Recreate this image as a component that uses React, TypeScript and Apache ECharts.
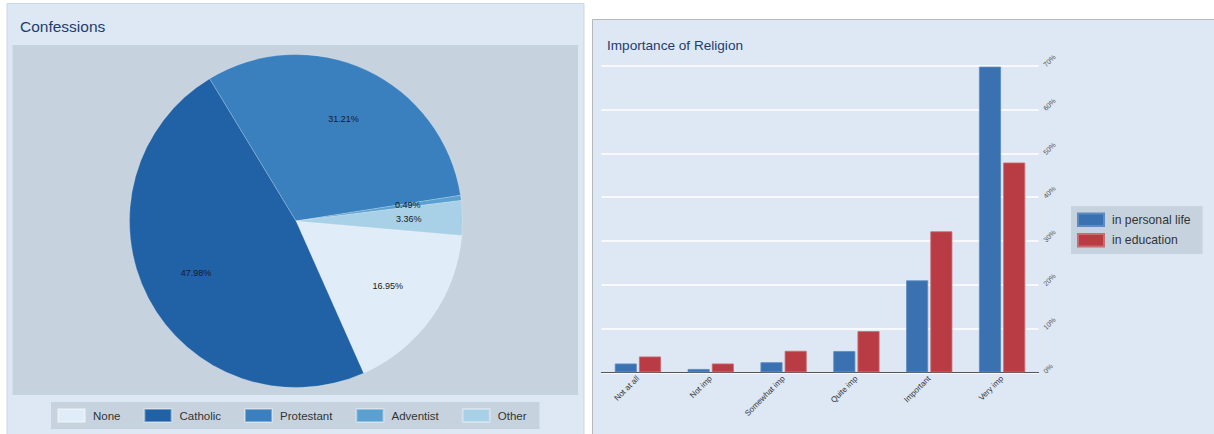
import React, { useEffect, useRef } from "react";
import * as echarts from "echarts";

// ---- Data ----
const confessionNames = ["None", "Catholic", "Protestant", "Adventist", "Other"];
const confessionShares = [16.95, 47.98, 31.21, 0.49, 3.36];
const confessionColors = ["#e0ecf8", "#2161a5", "#3a80bf", "#5aa0d0", "#a8d0e6"];

const importanceCategories = ["Not at all", "Not imp", "Somewhat imp", "Quite imp", "Important", "Very imp"];
const personalLife = [2.0, 0.75, 2.3, 4.85, 21.0, 69.8];
const education = [3.6, 2.0, 4.9, 9.4, 32.2, 47.9];
const yTicks = [0, 10, 20, 30, 40, 50, 60, 70];

const FONT = "'Liberation Sans', Arial, Helvetica, sans-serif";
const PANEL = "#dde8f4";
const GRAYBOX = "#c6d3df";
const TITLE_COLOR = "#1e3d6e";

export default function App() {
  const ref = useRef<HTMLDivElement>(null);
  useEffect(() => {
    if (!ref.current) return;
    const chart = echarts.init(ref.current, null, { renderer: "svg" });
    const pieData = confessionNames.map((n, i) => ({
      name: n,
      value: confessionShares[i],
      itemStyle: { color: confessionColors[i] },
    }));
    chart.setOption({
      animation: false,
      textStyle: { fontFamily: FONT },
      graphic: [
        {
          type: "rect",
          z: 0,
          silent: true,
          shape: { x: 7, y: 3.5, width: 577, height: 431 },
          style: { fill: PANEL, stroke: "#cbd7e2", lineWidth: 1 },
        },
        {
          type: "rect",
          z: 0,
          silent: true,
          shape: { x: 12.5, y: 45, width: 565.5, height: 350 },
          style: { fill: GRAYBOX },
        },
        {
          type: "rect",
          z: 0,
          silent: true,
          shape: { x: 592.5, y: 19.5, width: 630, height: 420 },
          style: { fill: PANEL, stroke: "#b4b8bd", lineWidth: 1 },
        },
      ],
      title: [
        {
          text: "Confessions",
          left: 20,
          top: 18.5,
          padding: 0,
          textStyle: { fontSize: 15.5, fontWeight: "normal", color: TITLE_COLOR, fontFamily: FONT },
        },
        {
          text: "Importance of Religion",
          left: 607,
          top: 38.5,
          padding: 0,
          textStyle: { fontSize: 13.6, fontWeight: "normal", color: TITLE_COLOR, fontFamily: FONT },
        },
      ],
      legend: [
        {
          data: confessionNames,
          orient: "horizontal",
          left: 51,
          top: 402,
          padding: [6, 13, 6, 6],
          itemWidth: 27,
          itemHeight: 13,
          itemGap: 23,
          backgroundColor: GRAYBOX,
          borderRadius: 0,
          icon: "rect",
          selectedMode: false,
          textStyle: { fontSize: 11.5, color: "#333", fontFamily: FONT, padding: [0, 0, 0, 3] },
        },
        {
          data: ["in personal life", "in education"],
          orient: "vertical",
          left: 1071,
          top: 206,
          padding: [6.5, 12, 6.5, 6],
          itemWidth: 26,
          itemHeight: 12.5,
          itemGap: 6,
          backgroundColor: GRAYBOX,
          borderRadius: 0,
          icon: "rect",
          selectedMode: false,
          textStyle: { fontSize: 12.2, color: "#333", fontFamily: FONT, padding: [0, 0, 0, 3] },
        },
      ],
      grid: {
        left: 601.5,
        right: 175.5,
        top: 65.8,
        bottom: 61.7,
        containLabel: false,
      },
      xAxis: {
        type: "category",
        data: importanceCategories,
        offset: 1,
        axisLine: { lineStyle: { color: "#555", width: 1.2 } },
        axisTick: { alignWithLabel: true, inside: true, length: 5, lineStyle: { color: "#555", width: 1.2 } },
        axisLabel: { rotate: 45, fontSize: 8, color: "#333", margin: 4, fontFamily: FONT },
        splitLine: { show: false },
      },
      yAxis: {
        type: "value",
        position: "right",
        min: 0,
        max: yTicks[yTicks.length - 1],
        interval: 10,
        axisLine: { show: false },
        axisTick: { show: false },
        axisLabel: { rotate: 45, fontSize: 7, color: "#555", margin: 6, formatter: "{value}%", fontFamily: FONT },
        splitLine: { lineStyle: { color: "#ffffff", width: 1.5 } },
      },
      series: [
        {
          type: "pie",
          name: "Confessions",
          center: [296, 221],
          radius: [0, 166.5],
          startAngle: -5,
          clockwise: true,
          data: pieData,
          label: { show: false },
          labelLine: { show: false },
          itemStyle: { borderColor: "rgba(255,255,255,0.35)", borderWidth: 0.6 },
          emphasis: { disabled: true },
          z: 2,
        },
        {
          type: "pie",
          name: "labels",
          center: [296, 221],
          radius: [53, 166.5],
          startAngle: -5,
          clockwise: true,
          silent: true,
          data: confessionNames.map((n, i) => ({ name: n, value: confessionShares[i] })),
          itemStyle: { color: "rgba(0,0,0,0)", borderWidth: 0 },
          label: {
            show: true,
            position: "inside",
            fontSize: 9,
            color: "#1a1a1a",
            fontFamily: FONT,
            formatter: (p: any) => Number(p.value).toFixed(2) + "%",
          },
          labelLine: { show: false },
          emphasis: { disabled: true },
          z: 3,
        },
        {
          type: "bar",
          name: "in personal life",
          data: personalLife,
          barWidth: 22,
          barGap: "10%",
          itemStyle: { color: "#3a72b1", borderColor: "#5c8cc3", borderWidth: 0.8 },
          emphasis: { disabled: true },
        },
        {
          type: "bar",
          name: "in education",
          data: education,
          barWidth: 22,
          barGap: "10%",
          itemStyle: { color: "#b93c45", borderColor: "#cc6a70", borderWidth: 0.8 },
          emphasis: { disabled: true },
        },
      ],
    });
    return () => chart.dispose();
  }, []);
  return (
    <div
      ref={ref}
      style={{ position: "absolute", left: 0, top: 0, width: 1214, height: 434, background: "#ffffff" }}
    />
  );
}
